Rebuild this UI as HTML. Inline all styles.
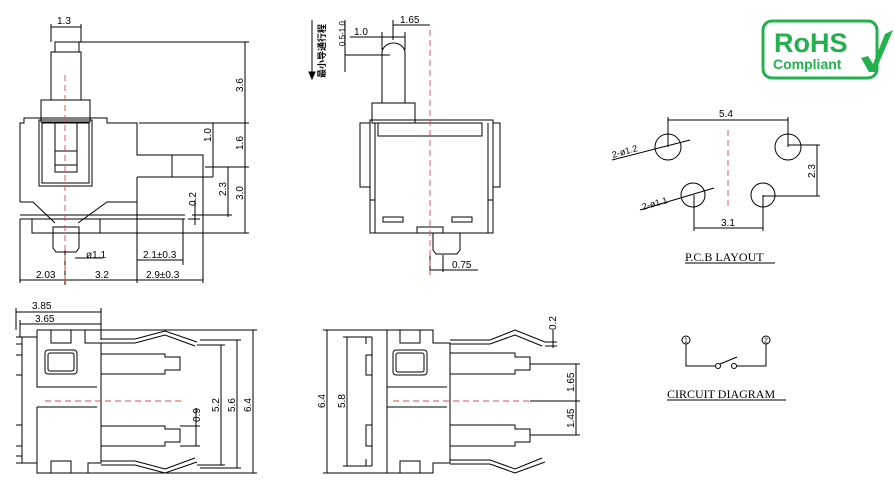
<!DOCTYPE html>
<html><head><meta charset="utf-8"><style>html,body{margin:0;padding:0;background:#fff}svg{display:block}</style></head>
<body>
<svg width="895" height="487" viewBox="0 0 895 487" xmlns="http://www.w3.org/2000/svg" font-family="Liberation Sans, sans-serif" font-size="10" fill="none" stroke="#000" stroke-width="1">
<!-- VIEW 1 -->
<g>
<rect x="55" y="42" width="24" height="10"/>
<rect x="51" y="52" width="30" height="48"/>
<rect x="41" y="100" width="49" height="22"/>
<path d="M20 202 V123 H24 V118 H107 V123 H137 V155 H203 V283"/>
<path d="M139 123 H213"/>
<path d="M172 155 V177 M137 177 H213 M137 177 V283"/>
<rect x="39" y="120" width="53" height="66"/>
<rect x="42" y="123" width="47" height="60"/>
<rect x="55" y="122" width="22" height="50"/>
<path d="M55 151 H77 M55 165 H77"/>
<path d="M20 202 H33 L55 223 M137 202 H107 L78 223"/>
<path d="M20 215 H185 M20 219 H185"/>
<path d="M32 219 V233 H100 V219"/>
<path d="M53 227 H79 V248 L76 252 H56 L53 248 Z M53 233 H79"/>
<path d="M20 219 V283 M183 219 V265"/>
<path d="M51 24 V42 M81 24 V42 M51 27 H81"/>
<path d="M79 42 H249 M139 123 H249 M205 167 H249 M100 233 H249"/>
<path d="M245 42 V233 M228 167 V217 M213 123 V177 M192 215 H232 M188 219 H200 M195 200 V225"/>
<path d="M20 280 H203 M137 260 H183 M75 258 H103 M65 250 V285"/>
<g fill="#000" stroke="none" font-size="10">
<text x="57" y="24">1.3</text>
<text transform="translate(243 92) rotate(-90)">3.6</text>
<text transform="translate(243 150) rotate(-90)">1.6</text>
<text transform="translate(243 200) rotate(-90)">3.0</text>
<text transform="translate(226 196) rotate(-90)">2.3</text>
<text transform="translate(211 142) rotate(-90)">1.0</text>
<text transform="translate(196 206) rotate(-90)">0.2</text>
<text x="36" y="278">2.03</text>
<text x="95" y="278">3.2</text>
<text x="146" y="278">2.9±0.3</text>
<text x="86" y="258">ø1.1</text>
<text x="143" y="258">2.1±0.3</text>
</g>
<path d="M65 75 V285" stroke="#e04848" stroke-width="0.9" stroke-dasharray="6 4"/>
</g>
<!-- VIEW 2 -->
<g>
<path d="M382 103 V53 A11.5 10 0 0 1 405 53 V103"/>
<rect x="372" y="103" width="43" height="20"/>
<path d="M360 123 H370 V187 H360 Z M493 123 H500 V187 H493 Z"/>
<rect x="370" y="120" width="123" height="113"/>
<path d="M375 123 V233 M488 123 V233 M370 200 H375 M488 200 H493"/>
<rect x="378" y="123" width="104" height="13"/>
<rect x="383" y="217" width="20" height="5"/>
<rect x="452" y="217" width="20" height="5"/>
<path d="M417 233 V227 H443 V233"/>
<path d="M433 233 V250 L436 254 H457 L460 250 V233"/>
<path d="M312 20 V78 M345 20 V72 M345 55 H390 M350 37 H405 M382 32 V50 M405 32 V50 M393 20 V40 M393 25 H430 M430 255 V275 M430 270 H478 M443 255 V272"/>
<path d="M309 72 L312 79 L315 72 Z" fill="#000"/>
<g fill="#000" stroke="none">
<text transform="translate(325 78) rotate(-90)" font-family="Liberation Sans, Noto Sans CJK SC, sans-serif" font-size="9" font-weight="bold">最小导通行程</text>
<text transform="translate(345 46) rotate(-90)" font-size="8">0.5-1.0</text>
<text x="354" y="35">1.0</text>
<text x="400" y="23">1.65</text>
<text x="452" y="268">0.75</text>
</g>
<path d="M430 30 V275" stroke="#e04848" stroke-width="0.9" stroke-dasharray="6 4"/>
</g>
<!-- VIEW 3 -->
<g>
<path d="M16 308 V330 M101 308 V340 M20 320 V337 M16 312 H101 M20 324 H101"/>
<path d="M22 337 H37 M22 463 H37 M22 337 V463 M16 337 H22 V344 H16 M16 463 H22 V456 H16 M16 355 H22 V375 H16 M16 425 H22 V446 H16"/>
<path d="M37 330 H85 V343 H101 V463 H88 V473 H37 V407 M37 330 V387 H97"/>
<path d="M37 407 H97"/>
<rect x="45" y="350" width="32" height="24" rx="3"/>
<rect x="48" y="353" width="26" height="18" rx="2"/>
<rect x="51" y="330" width="20" height="13"/>
<rect x="51" y="461" width="20" height="12"/>
<path d="M101 339 H135 L165 331 L197 342 M101 343 H135 L165 335 L195 346"/>
<path d="M101 465 H135 L165 473 L197 462 M101 461 H135 L165 469 L195 458"/>
<path d="M101 354 H165 V357 H180 V370 H165 V374 H101"/>
<path d="M101 426 H165 V429 H180 V442 H165 V446 H101"/>
<path d="M197 345 H225 M197 465 H225 M200 340 H241 M200 468 H241 M85 330 H257 M85 473 H257 M253 330 V473 M237 340 V468 M221 345 V465 M196 408 V446 M180 426 H200 M180 446 H200"/>
<g fill="#000" stroke="none">
<text x="32" y="309">3.85</text>
<text x="35" y="322">3.65</text>
<text transform="translate(200 422) rotate(-90)">0.9</text>
<text transform="translate(219 412) rotate(-90)">5.2</text>
<text transform="translate(235 412) rotate(-90)">5.6</text>
<text transform="translate(251 412) rotate(-90)">6.4</text>
</g>
<path d="M45 401 H182" stroke="#e04848" stroke-width="0.9" stroke-dasharray="6 4"/>
</g>
<!-- VIEW 4 -->
<g>
<path d="M323 330 H387 M323 473 H387 M327 330 V473 M343 337 H370 M343 466 H370 M347 337 V466"/>
<path d="M366 337 H372 M366 466 H372 M372 337 V466 M366 337 V344 M366 466 V459 M366 355 H372 V375 H366 Z M366 425 H372 V446 H366 Z"/>
<path d="M387 330 H433 V343 H450 V463 H433 V473 H387 Z"/>
<path d="M387 387 H447 M387 407 H447"/>
<rect x="393" y="350" width="34" height="25" rx="3"/>
<rect x="396" y="353" width="28" height="19" rx="2"/>
<rect x="400" y="330" width="20" height="13"/>
<rect x="400" y="461" width="20" height="12"/>
<path d="M450 340 H490 L515 330 L545 342 M450 344 H490 L515 335 L542 346"/>
<path d="M450 464 H490 L515 473 L545 462 M450 460 H490 L515 469 L542 458"/>
<path d="M450 353 H515 V357 H530 V370 H515 V374 H450"/>
<path d="M450 425 H515 V429 H530 V442 H515 V446 H450"/>
<path d="M530 364 H580 M530 435 H580 M530 401 H580 M576 364 V435 M553 330 V348 M545 342 H557 M545 346 H557"/>
<g fill="#000" stroke="none">
<text transform="translate(325 408) rotate(-90)">6.4</text>
<text transform="translate(345 408) rotate(-90)">5.8</text>
<text transform="translate(556 330) rotate(-90)">0.2</text>
<text transform="translate(574 392) rotate(-90)">1.65</text>
<text transform="translate(574 428) rotate(-90)">1.45</text>
</g>
<path d="M393 401 H532" stroke="#e04848" stroke-width="0.9" stroke-dasharray="6 4"/>
</g>
<!-- PCB -->
<g>
<circle cx="668" cy="147" r="13"/>
<circle cx="788" cy="147" r="13"/>
<circle cx="693" cy="195" r="12"/>
<circle cx="763" cy="195" r="12"/>
<path d="M668 117 V147 M788 117 V147 M668 120 H788 M788 145 H820 M763 196 H820 M817 145 V196 M694 195 V231 M763 195 V231 M694 228 H763"/>
<path d="M612 160 L690 140 M640 210 L714 188"/>
<g fill="#000" stroke="none">
<text x="719" y="117">5.4</text>
<text transform="translate(815 178) rotate(-90)">2.3</text>
<text x="721" y="226">3.1</text>
<text transform="translate(613 158) rotate(-16)" font-size="9">2-ø1.2</text>
<text transform="translate(643 210) rotate(-16)" font-size="9">2-ø1.1</text>
<text x="685" y="261" font-family="Liberation Serif, serif" font-size="12">P.C.B LAYOUT</text>
</g>
<path d="M685 263 H775"/>
<path d="M728 130 V210" stroke="#e04848" stroke-width="0.9" stroke-dasharray="6 4"/>
</g>
<!-- RoHS -->
<g>
<rect x="763" y="21" width="114" height="57" rx="9" stroke="#22b14c" stroke-width="3"/>
<g fill="#22b14c" stroke="none" font-weight="bold">
<text x="774" y="52" font-size="27">RoHS</text>
<text x="773" y="69" font-size="14">Compliant</text>
<path d="M861 58 L868 56 L873 64 L885 34 L893 30 L875 72 L869 72 Z"/>
</g>
</g>
<!-- Circuit -->
<g>
<circle cx="686" cy="340" r="4"/>
<circle cx="766" cy="340" r="4"/>
<path d="M686 344 V366 H715 M766 344 V366 H737 M720 364 L737 357"/>
<circle cx="718" cy="366" r="2.5"/>
<circle cx="734" cy="366" r="2.5"/>
<g fill="#000" stroke="none" font-size="7" text-anchor="middle">
<text x="686" y="342.5">1</text>
<text x="766" y="342.5">2</text>
</g>
<text x="667" y="398" fill="#000" stroke="none" font-family="Liberation Serif, serif" font-size="12">CIRCUIT DIAGRAM</text>
<path d="M667 400 H786"/>
</g>
</svg>
</body></html>
